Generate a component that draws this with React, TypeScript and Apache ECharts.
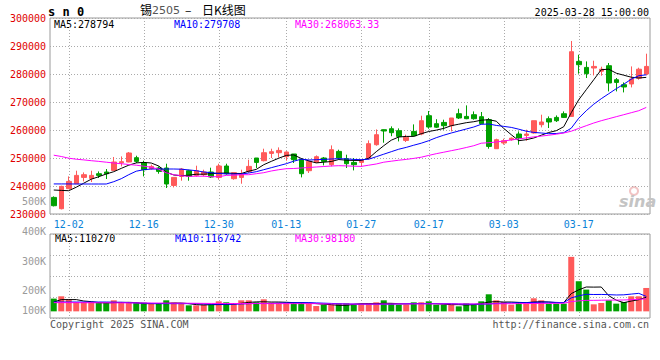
import React, { useEffect, useRef } from "react";
import * as echarts from "echarts";

// ---------- DATA ----------
const dates = [
  "11-28", "11-29",
  "12-02", "12-03", "12-04", "12-05", "12-06", "12-09", "12-10", "12-11", "12-12", "12-13",
  "12-16", "12-17", "12-18", "12-19", "12-20", "12-23", "12-24", "12-25", "12-26", "12-27",
  "12-30", "12-31",
  "01-02", "01-03", "01-06", "01-07", "01-08", "01-09", "01-10", "01-13", "01-14", "01-15",
  "01-16", "01-17", "01-20", "01-21", "01-22", "01-23", "01-24", "01-27",
  "02-05", "02-06", "02-07", "02-10", "02-11", "02-12", "02-13", "02-14", "02-17", "02-18",
  "02-19", "02-20", "02-21", "02-24", "02-25", "02-26", "02-27", "02-28",
  "03-03", "03-04", "03-05", "03-06", "03-07", "03-10", "03-11", "03-12", "03-13", "03-14",
  "03-17", "03-18", "03-19", "03-20", "03-21", "03-24", "03-25", "03-26", "03-27", "03-28",
];
const labelDates = ["12-02", "12-16", "12-30", "01-13", "01-27", "02-17", "03-03", "03-17"];

const opens = [
  235930, 231890, 239040, 240820, 243070, 242710, 244390, 245000, 245570, 248320,
  248570, 250110, 248210, 246180, 246430, 246430, 240210, 243430, 245460, 243790,
  244040, 245000, 243070, 247140, 242610, 243070, 245210, 250000, 249040, 251640,
  251890, 250460, 251430, 249390, 245460, 248430, 250000, 247610, 252360, 249750,
  248430, 248430, 249930, 254750, 260110, 260460, 259750, 256290, 259500, 258570,
  265110, 262250, 262710, 261540, 265820, 264860, 265460, 264750, 263680, 253320,
  255360, 256540, 258570, 258070, 258930, 261890, 264040, 264500, 265820, 264860,
  284500, 282360, 282140, 281000, 282960, 277960, 276180, 276430, 278500, 280000,
];
const closes = [
  232960, 239860, 241640, 243790, 244040, 243790, 243790, 244390, 248570, 248680,
  251790, 248790, 245820, 247000, 245210, 240710, 243070, 246070, 243430, 245460,
  245000, 243210, 247140, 244390, 244750, 244290, 247000, 248430, 251890, 252250,
  252710, 252140, 249390, 244390, 248790, 250460, 248790, 252960, 250000, 247960,
  247610, 249210, 255110, 258320, 259640, 259040, 257710, 257430, 257960, 263320,
  261070, 261000, 261540, 264290, 264290, 264040, 264040, 262250, 254140, 256540,
  256180, 257070, 257140, 258570, 263320, 262860, 262860, 263320, 264500, 287960,
  283320, 280110, 282710, 281710, 276790, 277000, 275360, 278210, 281710, 282710,
];
const lows = [
  232710, 231640, 238900, 240700, 241640, 241430, 242860, 242500, 245500, 247000,
  248500, 248210, 243430, 245820, 244390, 239290, 239500, 241890, 241890, 243320,
  243430, 242860, 242250, 244040, 242250, 240820, 244640, 246430, 248790, 250000,
  250210, 249040, 248210, 243070, 244640, 248210, 247360, 247000, 249390, 246430,
  245570, 246890, 249390, 254390, 255460, 257790, 255930, 255710, 257710, 258140,
  260460, 260710, 260110, 259500, 263930, 263860, 263680, 262070, 253320, 253210,
  254750, 256180, 254750, 256180, 258680, 260930, 260710, 262860, 264290, 264860,
  280110, 278570, 279500, 279390, 273790, 273790, 273430, 275210, 277960, 279500,
];
const highs = [
  236290, 240110, 243430, 245460, 244860, 245460, 245210, 246070, 250360, 250570,
  252140, 250820, 249040, 247610, 247000, 247960, 243100, 246430, 245820, 247250,
  245820, 246540, 247960, 247960, 244750, 245820, 249390, 250000, 253320, 253320,
  253790, 252360, 251430, 250000, 249390, 250930, 250360, 254500, 252960, 251180,
  250000, 249390, 256290, 260210, 260210, 261290, 260570, 258320, 262000, 265110,
  266790, 263860, 263680, 264290, 267610, 268790, 266640, 266430, 264290, 256890,
  256890, 257360, 259500, 260110, 263320, 265460, 264860, 265210, 266640, 291790,
  286890, 284500, 284750, 282610, 283930, 278570, 277000, 282710, 282250, 287250,
];

const ma5 = [
  238570, 238430, 238320, 239570, 241000, 242430, 243320, 244290, 245110, 246290,
  247430, 248250, 248430, 248210, 247140, 244930, 243930, 243680, 243860, 244210,
  244210, 244390, 244570, 244640, 244500, 244460, 245290, 245930, 247610, 248790,
  249930, 250930, 251110, 249820, 248960, 248250, 248500, 248750, 249460, 249210,
  249140, 249140, 249930, 252250, 254390, 256360, 257500, 257710, 257710, 258680,
  259460, 259960, 260570, 261540, 262070, 262610, 262960, 263500, 263680, 263140,
  260570, 258320, 256180, 256540, 257140, 258140, 259110, 259750, 261180, 266180,
  270820, 274390, 277960, 281540, 281710, 280290, 279570, 278860, 278570, 278794,
];
const ma10 = [
  240740, 240740, 240740, 240710, 240710, 240710, 240710, 240710, 241540, 242610,
  244040, 245290, 245820, 246070, 246070, 246070, 246070, 246000, 245750, 245460,
  245000, 244750, 244460, 244320, 244290, 244290, 244640, 245110, 245820, 246540,
  247250, 247960, 248860, 249570, 249290, 249390, 249500, 249640, 249750, 249680,
  249500, 249390, 249570, 250460, 251360, 252250, 253140, 253790, 254570, 255290,
  256180, 257250, 258140, 258930, 259640, 260360, 261070, 262040, 262140, 261640,
  261290, 260930, 260290, 259570, 259140, 258930, 258680, 258750, 259040, 260640,
  264210, 266890, 269210, 271180, 272960, 274750, 276360, 278140, 279390, 279708,
];
const ma30 = [
  251000, 250540, 249930, 249570, 249320, 249040, 248790, 248500, 248210, 247960,
  247680, 247430, 247070, 246710, 246000, 244750, 244040, 243680, 243430, 243500,
  243500, 243320, 243320, 243790, 243860, 244040, 244040, 244390, 244750, 245360,
  245820, 246180, 246250, 246430, 246610, 246790, 246960, 247140, 247250, 247180,
  247070, 247000, 247430, 247860, 248500, 248860, 249210, 249500, 249860, 250290,
  250930, 251540, 252070, 252610, 253140, 253750, 254390, 255290, 255460, 255710,
  256070, 256460, 256790, 257180, 257540, 257820, 258140, 258500, 258930, 259570,
  260570, 261540, 262500, 263320, 264040, 264750, 265460, 266180, 266890, 268063.33,
];

const volumes = [
  99700, 117750, 94200, 73000, 73000, 73000, 68300, 68300, 86350, 73000,
  68300, 68300, 68300, 60400, 60400, 86350, 68300, 60400, 47100, 47100,
  52600, 52600, 78500, 70650, 60400, 86350, 86350, 70650, 94200, 68300,
  68300, 68300, 70650, 70650, 60400, 41600, 52600, 52600, 62800, 62800,
  52600, 57300, 62800, 70650, 86350, 65150, 52600, 52600, 70650, 70650,
  78500, 52600, 52600, 52600, 39250, 62800, 52600, 78500, 133450, 86350,
  73000, 52600, 73000, 60400, 102050, 86350, 60400, 60400, 60400, 426250,
  235500, 170350, 54950, 65150, 86350, 60400, 73000, 117750, 117750, 182900,
];
const volMa5 = [
  73000, 91850, 91850, 91850, 80850, 76000, 68300, 66000, 68300, 70000,
  70650, 68300, 60400, 60400, 60400, 63000, 65000, 65000, 60400, 52600,
  50000, 52600, 52600, 55000, 58000, 63000, 70000, 74000, 75000, 73000,
  73000, 71000, 68300, 66000, 65000, 60400, 56000, 52600, 47100, 47100,
  55000, 60400, 60400, 60400, 63000, 62800, 60000, 58000, 60400, 62000,
  60400, 60400, 56000, 52600, 52600, 50000, 52600, 60400, 73000, 76000,
  73000, 73000, 70000, 68300, 73000, 75000, 73000, 68300, 68300, 138760,
  168590, 190580, 189490, 190440, 122460, 87440, 67970, 80530, 91050, 110270,
];
const volMa10 = [
  73000, 73000, 73000, 73000, 73000, 73000, 73000, 73000, 72000, 71000,
  68000, 66000, 64000, 62000, 60400, 60400, 60400, 60400, 60400, 60400,
  58000, 56000, 55000, 55000, 56000, 58000, 60000, 62000, 62000, 62000,
  64000, 66000, 68000, 68000, 68000, 66000, 64000, 62000, 60000, 58000,
  57000, 56000, 56000, 56000, 56000, 56000, 58000, 60000, 60400, 60400,
  60400, 60400, 60400, 60400, 58000, 56000, 56000, 56000, 58000, 62000,
  64000, 66000, 68000, 68000, 70000, 72000, 72000, 70000, 68000, 105490,
  121740, 133510, 131710, 132180, 130610, 128020, 129280, 135010, 140750, 116742,
];
const volMa30 = [
  68300, 68300, 68000, 68000, 67500, 67500, 67000, 67000, 66500, 66500,
  66000, 66000, 65500, 65000, 65000, 64500, 64000, 64000, 63500, 63000,
  62500, 62000, 62000, 61500, 61500, 61000, 61000, 61000, 60500, 60500,
  60400, 60400, 60400, 60400, 60400, 60400, 58000, 58000, 57500, 57500,
  57000, 57000, 57000, 57000, 57500, 57500, 58000, 58000, 58000, 58500,
  58500, 58500, 58500, 58000, 58000, 58000, 58000, 58000, 58500, 59000,
  59500, 60000, 60500, 61000, 61500, 62000, 62500, 63000, 63500, 76000,
  82000, 86000, 86000, 87000, 88000, 88500, 89000, 91000, 94000, 98180,
];

const volTickLabels = ["500K", "400K", "300K", "200K", "100K"];

// ---------- STYLE ----------
const MONO = '"DejaVu Sans Mono", monospace';
const CJK = '"Noto Sans CJK SC", sans-serif';
const RED = "#ff5a5a";
const GREEN = "#00a000";
const GRID_LINE = { color: "#aaaaaa", type: [1, 2] as any, width: 1 };
const BORDER = "#9a9a9a";

const isLabel = (idx: number) => labelDates.indexOf(dates[idx]) >= 0;

export default function App() {
  const ref = useRef<HTMLDivElement>(null);

  useEffect(() => {
    if (!ref.current) return;
    const chart = echarts.init(ref.current, undefined, { renderer: "svg" });

    const lineSeries = (data: number[], color: string, xi: number, yi: number) => ({
      type: "line",
      data,
      xAxisIndex: xi,
      yAxisIndex: yi,
      symbol: "none",
      showSymbol: false,
      smooth: false,
      lineStyle: { color, width: 1 },
      itemStyle: { color },
      z: 3,
    });

    const volLabelY = [201, 231, 261, 290, 310];
    const txt = (text: string, x: number, y: number, fill: string, font: string, align = "left") => ({
      type: "text",
      x,
      y,
      style: { text, fill, font, align, verticalAlign: "middle" },
    });

    const option: any = {
      animation: false,
      backgroundColor: "#ffffff",
      textStyle: { fontFamily: MONO },
      grid: [
        { left: 50, top: 18, width: 600, height: 196, show: true, borderColor: BORDER, borderWidth: 1 },
        { left: 50, top: 234, width: 600, height: 84, show: true, borderColor: BORDER, borderWidth: 1 },
      ],
      xAxis: [
        {
          type: "category",
          gridIndex: 0,
          data: dates,
          boundaryGap: true,
          axisLine: { show: false },
          axisTick: { show: false },
          axisLabel: { interval: isLabel, color: "#0a83d8", fontSize: 10, fontFamily: MONO, margin: 5 },
          splitLine: { show: true, interval: isLabel, alignWithLabel: true, lineStyle: GRID_LINE },
        },
        {
          type: "category",
          gridIndex: 1,
          data: dates,
          boundaryGap: true,
          axisLine: { show: false },
          axisTick: { show: false },
          axisLabel: { show: false },
          splitLine: { show: true, interval: isLabel, alignWithLabel: true, lineStyle: GRID_LINE },
        },
      ],
      yAxis: [
        {
          type: "value",
          gridIndex: 0,
          min: 230000,
          max: 300000,
          interval: 10000,
          axisLine: { show: false },
          axisTick: { show: false },
          axisLabel: {
            color: "#e00000",
            fontSize: 10,
            fontFamily: MONO,
            margin: 4,
            formatter: (v: number) => String(v),
          },
          splitLine: { show: true, lineStyle: GRID_LINE },
        },
        {
          type: "value",
          gridIndex: 1,
          min: -52000,
          max: 605000,
          show: false,
          splitLine: { show: false },
        },
        {
          type: "value",
          gridIndex: 1,
          min: 0,
          max: 4,
          interval: 1,
          axisLine: { show: false },
          axisTick: { show: false },
          axisLabel: { show: false },
          splitLine: { show: true, lineStyle: GRID_LINE },
        },
      ],
      series: [
        {
          type: "candlestick",
          xAxisIndex: 0,
          yAxisIndex: 0,
          data: dates.map((_, i) => [opens[i], closes[i], lows[i], highs[i]]),
          barWidth: 5,
          itemStyle: {
            color: RED,
            color0: GREEN,
            borderColor: RED,
            borderColor0: GREEN,
            borderWidth: 1,
          },
          z: 2,
        },
        lineSeries(ma5, "#000000", 0, 0),
        lineSeries(ma10, "#0000ff", 0, 0),
        lineSeries(ma30, "#ff00ff", 0, 0),
        {
          type: "bar",
          xAxisIndex: 1,
          yAxisIndex: 1,
          barWidth: 6,
          data: volumes.map((v, i) => ({
            value: v,
            itemStyle: { color: closes[i] >= opens[i] ? RED : GREEN },
          })),
          z: 2,
        },
        lineSeries(volMa5, "#000000", 1, 1),
        lineSeries(volMa10, "#0000ff", 1, 1),
        lineSeries(volMa30, "#ff00ff", 1, 1),
      ],
      graphic: [
        txt("s n 0", 48, 12, "#000", `bold 12px ${MONO}`),
        txt("锡", 140, 9, "#000", `12px ${CJK}`),
        txt("2505", 152, 10, "#555", '11px "DejaVu Sans"'),
        txt("–", 185, 9, "#000", `12px ${CJK}`),
        txt("日K线图", 202, 9, "#000", `12px ${CJK}`),
        txt("2025-03-28 15:00:00", 649, 12, "#000", `10px ${MONO}`, "right"),
        txt("MA5:" + ma5[ma5.length - 1], 54, 24, "#000", `10px ${MONO}`),
        txt("MA10:" + ma10[ma10.length - 1], 174, 24, "#0000ff", `10px ${MONO}`),
        txt("MA30:" + ma30[ma30.length - 1].toFixed(2), 295, 24, "#ff00ff", `10px ${MONO}`),
        txt("MA5:" + volMa5[volMa5.length - 1], 55, 238, "#000", `10px ${MONO}`),
        txt("MA10:" + volMa10[volMa10.length - 1], 175, 238, "#0000ff", `10px ${MONO}`),
        txt("MA30:" + volMa30[volMa30.length - 1], 295, 238, "#ff00ff", `10px ${MONO}`),
        ...volTickLabels.map((t, k) => txt(t, 46, volLabelY[k], "#9a9a9a", `10px ${MONO}`, "right")),
        txt("Copyright 2025 SINA.COM", 50, 324, "#555", `10px ${MONO}`),
        txt("http://finance.sina.com.cn", 649, 324, "#555", `10px ${MONO}`, "right"),
        {
          type: "ring",
          shape: { cx: 634, cy: 191, r: 5, r0: 3 },
          style: { fill: "#f2c4c4" },
          silent: true,
        },
        {
          ...txt("sina", 619, 201, "#c4c4c4", 'italic bold 16px "DejaVu Sans"'),
          silent: true,
        },
      ],
    };

    chart.setOption(option);
    return () => chart.dispose();
  }, []);

  return (
    <div
      ref={ref}
      style={{ position: "fixed", left: 0, top: 0, width: 660, height: 360, background: "#fff" }}
    />
  );
}
